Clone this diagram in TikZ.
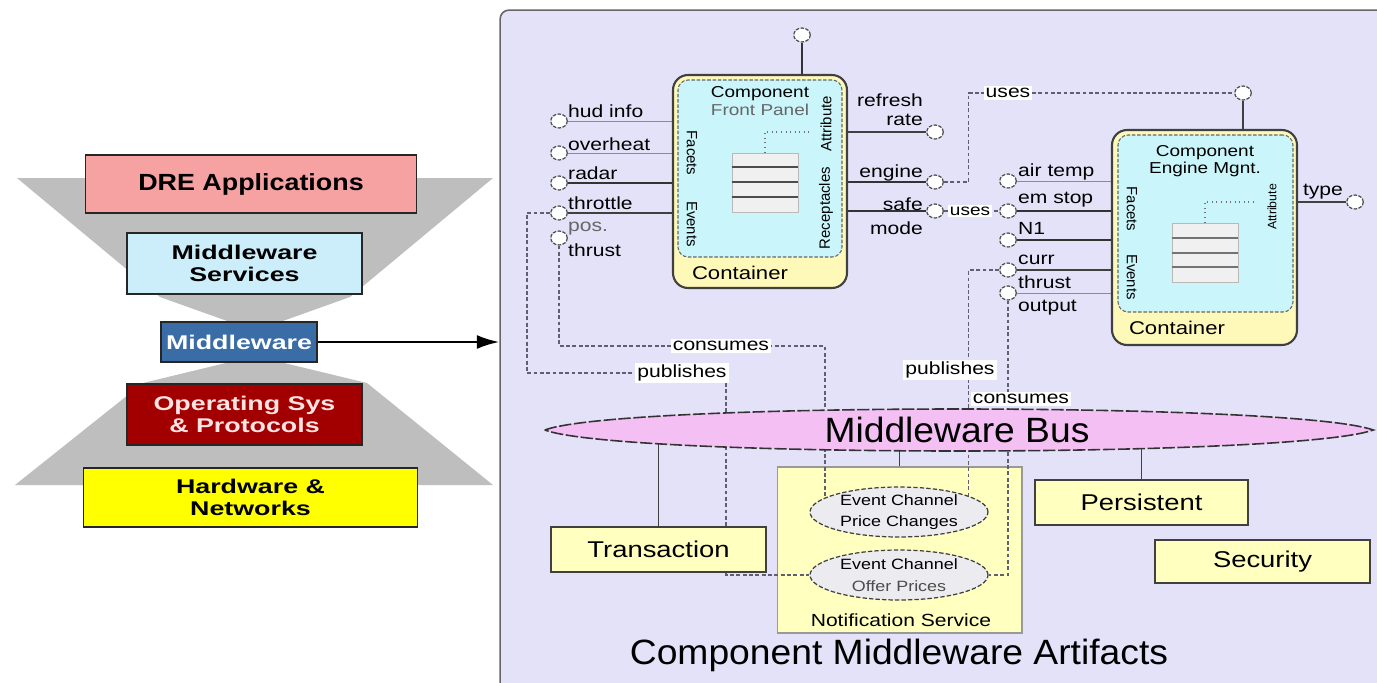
\documentclass[tikz,border=0pt]{standalone}
\usepackage{fontspec}
\setmainfont{Liberation Sans}
\newfontfamily\lblfont[FakeStretch=1.2]{Liberation Sans}
\newfontfamily\busfont[FakeStretch=1.06]{Liberation Sans}
\newfontfamily\layfont[FakeStretch=1.35]{Liberation Sans}
\newfontfamily\drefont[FakeStretch=1.15]{Liberation Sans}
\usetikzlibrary{shapes.geometric,arrows.meta}
\pgfdeclarelayer{bg}
\pgfdeclarelayer{links}
\pgfsetlayers{bg,links,main}

\definecolor{panelbg}{RGB}{228,226,249}
\definecolor{hourgray}{RGB}{190,190,190}
\definecolor{drepink}{RGB}{246,162,162}
\definecolor{svcblue}{RGB}{204,238,250}
\definecolor{mwblue}{RGB}{58,108,165}
\definecolor{osred}{RGB}{162,0,0}
\definecolor{ostext}{RGB}{255,226,226}
\definecolor{hwyellow}{RGB}{255,255,0}
\definecolor{contyellow}{RGB}{255,249,185}
\definecolor{compcyan}{RGB}{202,245,250}
\definecolor{svcyellow}{RGB}{255,255,192}
\definecolor{buspink}{RGB}{244,192,244}
\definecolor{chgray}{RGB}{236,236,240}
\definecolor{linkgray}{RGB}{95,95,112}

\begin{document}
\begin{tikzpicture}[x=0.02cm, y=-0.02cm,
  layerbox/.style={draw=black!85, line width=0.6pt, inner sep=0pt, align=center,
    font=\layfont\bfseries\fontsize{11.3}{12.5}\selectfont},
  contbox/.style={draw=black!75, line width=1.2pt, fill=contyellow, rounded corners=0.3cm, inner sep=0pt},
  compbox/.style={draw=black!60, dash pattern=on 2pt off 1pt, line width=0.6pt, fill=compcyan,
    rounded corners=0.2cm, inner sep=0pt},
  portc/.style={ellipse, draw=black!70, dash pattern=on 2pt off 0.8pt, line width=0.7pt, fill=white,
    minimum width=0.33cm, minimum height=0.28cm, inner sep=0pt},
  plabel/.style={font=\lblfont\fontsize{10}{11}\selectfont, inner sep=0.5pt},
  comptitle/.style={font=\lblfont\fontsize{9}{9.8}\selectfont, align=center, inner sep=0pt},
  sidelabel/.style={font=\fontsize{8.5}{9}\selectfont, inner sep=0pt},
  wireH/.style={draw=black!80, line width=1.3pt},
  wireM/.style={draw=black!75, line width=0.9pt},
  wireL/.style={draw=black!45, line width=0.45pt},
  linkdash/.style={draw=linkgray, line width=0.7pt, dash pattern=on 2.2pt off 1.4pt},
  attrdot/.style={draw=black!55, line width=0.6pt, dotted},
  tagbox/.style={fill=white, font=\lblfont\fontsize{10}{11}\selectfont, inner sep=1.2pt},
  svcbox/.style={draw=black!75, line width=0.9pt, fill=svcyellow, inner sep=0pt,
    font=\lblfont\fontsize{13}{14}\selectfont},
  chanell/.style={ellipse, draw=black!75, dash pattern=on 2.5pt off 1.2pt, line width=0.7pt, fill=chgray,
    minimum width=3.56cm, minimum height=1cm, inner sep=0pt},
  chantext/.style={font=\lblfont\fontsize{8.5}{12.3}\selectfont, align=center, inner sep=0pt},
  rowstack/.style={draw=gray!55, fill=black!6, line width=0.5pt, minimum width=1.32cm,
    minimum height=1.18cm, inner sep=0pt},
  conttext/.style={font=\lblfont\fontsize{10.5}{12}\selectfont, inner sep=0pt}
]
\useasboundingbox (0,0) rectangle (1377,683);

% ---------- backgrounds ----------
\begin{pgfonlayer}{bg}
  \fill[white] (0,0) rectangle (1377,683);
  \fill[hourgray] (17,178) -- (493,178) -- (350,297) -- (280,322) -- (280,362) -- (367,383)
    -- (493,485) -- (15,485) -- (143,383) -- (230,362) -- (230,322) -- (160,297) -- cycle;
  \node[draw=black!60, line width=0.9pt, fill=panelbg, rounded corners=0.18cm,
    minimum width=17.9cm, minimum height=13.8cm, inner sep=0pt] (panel) at (947.5,355) {};
  \node[draw=black!40, line width=0.6pt, fill=svcyellow, minimum width=4.9cm,
    minimum height=3.32cm, inner sep=0pt] (notif) at (899.5,550) {};
\end{pgfonlayer}

% ---------- layered stack ----------
\node[layerbox, fill=drepink, minimum width=6.64cm, minimum height=1.16cm,
  font=\drefont\bfseries\fontsize{13.3}{14}\selectfont] (dre) at (251,184) {DRE Applications};
\node[layerbox, fill=svcblue, minimum width=4.7cm, minimum height=1.22cm] (svc) at (244.5,263.5) {Middleware\\Services};
\node[layerbox, fill=mwblue, text=white, minimum width=3.12cm, minimum height=0.8cm] (mw) at (239,342) {Middleware};
\node[layerbox, fill=osred, text=ostext, minimum width=4.7cm, minimum height=1.22cm] (os) at (244.5,414.5) {Operating Sys\\\& Protocols};
\node[layerbox, fill=hwyellow, minimum width=6.7cm, minimum height=1.18cm] (hw) at (250.5,497.5) {Hardware \&\\Networks};

\draw[-{Latex[length=0.45cm,width=0.28cm]}, line width=1.4pt] (mw.east) -- (mw.east -| panel.west);

% ---------- event channels ----------
\node[chanell] (ecPrice) at (899,512) {};
\node[chantext] at (ecPrice.center) {Event Channel\\Price Changes};
\node[chanell] (ecOffer) at (899,575) {};
\node[chantext] at (ecOffer.center) {Event Channel\\\textcolor{black!70}{Offer Prices}};
\node[font=\lblfont\fontsize{10}{11}\selectfont, inner sep=0pt] (notiftxt) at (901,620) {Notification Service};

% ---------- Front Panel component ----------
\node[contbox, minimum width=3.48cm, minimum height=4.26cm] (fpcont) at (760,181.5) {};
\node[compbox, minimum width=3.28cm, minimum height=3.54cm] (fpcomp) at (760,168.5) {};
\node[comptitle] (fptitle) at (760,101) {Component\\\textcolor{black!60}{Front Panel}};
\node[conttext] (fpcl) at (740,273) {Container};
\node[sidelabel, rotate=-90] (fpfac) at (692,153) {Facets};
\node[sidelabel, rotate=-90] (fpevt) at (692,224) {Events};
\node[sidelabel, rotate=90] (fpatt) at (826,124) {Attribute};
\node[sidelabel, rotate=90] (fprec) at (826,208) {Receptacles};
\node[rowstack] (fptbl) at (765,182.5) {};
\foreach \yy in {167,182,197}
  \draw[black!70, line width=0.8pt] (fptbl.west |- 0,\yy) -- (fptbl.east |- 0,\yy);
\coordinate (fpattr) at (810,132);
\draw[attrdot] (fptbl.north) |- (fpattr);

% ---------- Engine Mgnt. component ----------
\node[contbox, minimum width=3.7cm, minimum height=4.3cm] (encont) at (1204.5,237.5) {};
\node[compbox, minimum width=3.5cm, minimum height=3.54cm] (encomp) at (1205.5,223.5) {};
\node[comptitle] (entitle) at (1205,161) {Component\\Engine Mgnt.};
\node[conttext] (encl) at (1177,328) {Container};
\node[sidelabel, rotate=-90] (enfac) at (1132,209) {Facets};
\node[sidelabel, rotate=-90] (enevt) at (1132,277) {Events};
\node[sidelabel, rotate=90, font=\fontsize{7}{8}\selectfont] (enatt) at (1272,207) {Attribute};
\node[rowstack] (entbl) at (1205,252.5) {};
\foreach \yy in {238,253,267}
  \draw[black!55, line width=0.6pt] (entbl.west |- 0,\yy) -- (entbl.east |- 0,\yy);
\coordinate (enattr) at (1255,202);
\draw[attrdot] (entbl.north) |- (enattr);

% ---------- ports ----------
\node[portc] (hud) at (559,121) {};
\node[portc] (ovh) at (559,153) {};
\node[portc] (rad) at (559,183) {};
\node[portc] (thr) at (559,213) {};
\node[portc] (pos) at (559,238) {};
\node[portc] (rr) at (935,132) {};
\node[portc] (eng) at (935,182) {};
\node[portc] (safe) at (935,211) {};
\node[portc] (fptop) at (802,35) {};

\node[portc] (air) at (1008,181) {};
\node[portc] (ems) at (1008,211) {};
\node[portc] (none) at (1008,240) {};
\node[portc] (curr) at (1008,270) {};
\node[portc] (outp) at (1008,293) {};
\node[portc] (typ) at (1355,202) {};
\node[portc] (entop) at (1243,93) {};

% port labels
\node[plabel, anchor=west] at (567,111) {hud info};
\node[plabel, anchor=west] at (567,144) {overheat};
\node[plabel, anchor=west] at (567,173) {radar};
\node[plabel, anchor=west] at (567,203) {throttle};
\node[plabel, anchor=west, text=black!60] at (567,229) {pos.};
\node[plabel, anchor=west] at (567,250) {thrust};
\node[plabel, anchor=east] at (924,100) {refresh};
\node[plabel, anchor=east] at (924,120) {rate};
\node[plabel, anchor=east] at (924,173) {engine};
\node[plabel, anchor=east] at (924,204) {safe};
\node[plabel, anchor=east] at (924,228) {mode};
\node[plabel, anchor=west] at (1017,172) {air temp};
\node[plabel, anchor=west] at (1017,200) {em stop};
\node[plabel, anchor=west] at (1017,228) {N1};
\node[plabel, anchor=west] at (1017,260) {curr};
\node[plabel, anchor=west] at (1017,282) {thrust};
\node[plabel, anchor=west] at (1017,308) {output};
\node[plabel] at (1323,192) {type};

% ---------- wires and links ----------
\begin{pgfonlayer}{links}
  \draw[wireL] (hud.east) -- (hud -| fpcont.west);
  \draw[wireL] (ovh.east) -- (ovh -| fpcont.west);
  \draw[wireH] (rad.east) -- (rad -| fpcomp.west);
  \draw[wireM] (thr.east) -- (thr -| fpcomp.west);
  \draw[wireM] (rr.west) -- (rr -| fpcomp.east);
  \draw[wireH] (eng.west) -- (eng -| fpcomp.east);
  \draw[wireH] (safe.west) -- (safe -| fpcomp.east);
  \draw[wireH] (fptop.south) -- (fptop |- fpcont.north);

  \draw[wireL] (air.east) -- (air -| encomp.west);
  \draw[wireH] (ems.east) -- (ems -| encomp.west);
  \draw[wireH] (none.east) -- (none -| encomp.west);
  \draw[wireM] (curr.east) -- (curr -| encomp.west);
  \draw[wireL] (outp.east) -- (outp -| encomp.west);
  \draw[wireM] (typ.west) -- (typ -| encomp.east);
  \draw[wireM] (entop.south) -- (entop |- encont.north);

  % uses
  \draw[linkdash] (eng.east) -- ++(25,0) |- (entop.west);
  \draw[linkdash] (safe.east) -- (ems.west);

  % publishes / consumes
  \coordinate (pubL) at (527,373);
  \coordinate (pubR) at (726,373);
  \draw[linkdash] (thr.west) -| (pubL) -- (pubR) |- (ecOffer.west);
  \coordinate (conL) at (559,346);
  \draw[linkdash] (pos.south) -- (conL) -| (ecPrice.169);
  \draw[linkdash] (curr.west) -| (ecPrice.13);
  \draw[linkdash] (outp.south) |- (ecOffer.east);
\end{pgfonlayer}

\node[tagbox] (uses1) at (1008,93) {uses};
\node[tagbox, font=\lblfont\fontsize{9}{10}\selectfont] (uses2) at (970,211) {uses};
\node[tagbox] (cons1) at (721,346) {consumes};
\node[tagbox] (pub1) at (682,373) {publishes};
\node[tagbox] (pub2) at (950,370) {publishes};
\node[tagbox] (cons2) at (1021,399) {consumes};

% ---------- middleware bus and services ----------
\node[minimum width=16.56cm, minimum height=0.9cm, inner sep=0pt] (bus) at (959,430) {};
\node[svcbox, minimum width=4.3cm, minimum height=0.9cm] (trans) at (658.5,549.5) {Transaction};
\node[svcbox, minimum width=4.26cm, minimum height=0.9cm] (pers) at (1141.5,502.5) {Persistent};
\node[svcbox, minimum width=4.3cm, minimum height=0.86cm] (sec) at (1262.5,561.5) {Security};
\begin{pgfonlayer}{links}
  \draw[wireM] (trans.north) -- (trans.north |- bus.center);
  \draw[wireM] (notif.north) -- (notif.north |- bus.center);
  \draw[wireM] (pers.north) -- (pers.north |- bus.center);
\end{pgfonlayer}
\draw[draw=black!80, line width=0.9pt, dash pattern=on 7pt off 1.5pt, fill=buspink]
  (bus.west) .. controls (620,402) and (1295,402) .. (bus.east)
  .. controls (1295,458) and (620,458) .. cycle;
\node[font=\busfont\fontsize{20}{24}\selectfont, inner sep=0pt] (bustxt) at (957,430) {Middleware Bus};

\node[font=\busfont\fontsize{20}{24}\selectfont, inner sep=0pt] (arttitle) at (899,655) {Component Middleware Artifacts};
\end{tikzpicture}
\end{document}
